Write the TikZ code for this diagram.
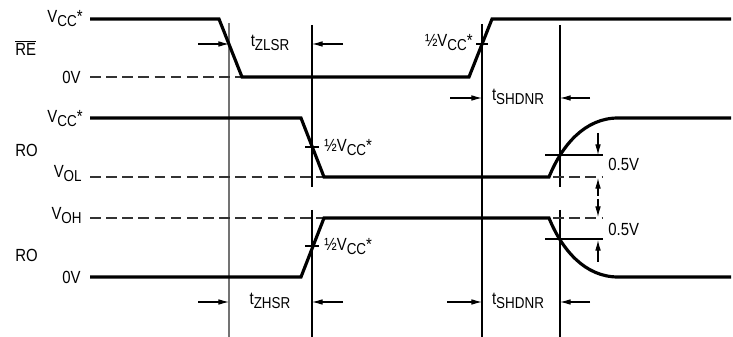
\documentclass[tikz,border=0pt]{standalone}
\usepackage{fontspec}
\setmainfont[FakeStretch=0.85]{Liberation Sans}
\usetikzlibrary{arrows.meta}

\newcommand\sbs[1]{\raisebox{-2.3pt}{\fontsize{9}{9}\selectfont #1}}
\newcommand\vcc{V\sbs{CC}*}
\newcommand\hvcc{½\vcc}

\begin{document}
\begin{tikzpicture}[x=0.02cm,y=-0.02cm,
  sig/.style={line width=1.8pt,line join=miter},
  lvl/.style={line width=0.7pt,color=black!80,dash pattern=on 6pt off 3.2pt},
  tline/.style={line width=0.6pt},
  dim/.style={line width=0.6pt,-{Latex[length=6pt,width=3.2pt]}},
  lbl/.style={font=\fontsize{10}{11}\selectfont,inner sep=0pt}]
\useasboundingbox (0,0) rectangle (733,337);

%Define time markers and levels
\def\ta{229}        %enable RE falls.
\def\tb{312}        %RO half swing.
\def\tc{482}        %RE half swing.
\def\td{560}        %RO 0.5V point.

% Left labels
\node[lbl,anchor=east] (vcca) at (83,19) {\vcc};
\node[lbl,anchor=west] (re) at (15,48) {$\overline{\hbox{RE}}$};
\node[lbl,anchor=east] (zva) at (81,77) {0V};
\node[lbl,anchor=east] (vccb) at (83,119) {\vcc};
\node[lbl,anchor=west] (roa) at (15,150) {RO};
\node[lbl,anchor=east] (vol) at (82,174) {V\sbs{OL}};
\node[lbl,anchor=east] (voh) at (82,216) {V\sbs{OH}};
\node[lbl,anchor=west] (rob) at (15,255) {RO};
\node[lbl,anchor=east] (zvb) at (81,277) {0V};

% Time marker lines
\draw[tline,color=black!55,line width=0.9pt] (\ta,23) -- (\ta,337);
\draw[tline] (\tb,25) -- (\tb,187) (\tb,210) -- (\tb,337);
\draw[tline] (\tc,24) -- (\tc,337);
\draw[tline] (\td,25) -- (\td,187) (\td,210) -- (\td,337);

% Dashed levels
\draw[lvl] (90,77) -- (242,77);
\draw[lvl] (90,177) -- (324,177);
\draw[lvl] (90,218) -- (324,218);
\draw[lvl] (553,177) -- (603,177);
\draw[lvl] (553,218) -- (603,218);

% RE
\draw[sig] (90,19) -- (219,19) -- (242,77) -- (469,77) -- (492,19) -- (731,19);

% RO, high to low
\draw[sig] (90,118) -- (301,118) -- (324,177) -- (549,177)
  .. controls (562,145) and (585,118) .. (618,118) -- (731,118);

% RO, low to high
\draw[sig] (90,277) -- (301,277) -- (324,218) -- (549,218)
  .. controls (562,250) and (585,277) .. (618,277) -- (731,277);

% Half swing ticks
\draw[tline] (476,44) -- (488,44);
\draw[tline] (305,147) -- (319,147);
\draw[tline] (305,246) -- (319,246);
\node[lbl,anchor=east] (hre) at (473,43) {\hvcc};
\node[lbl,anchor=west] (hroa) at (324,148) {\hvcc};
\node[lbl,anchor=west] (hrob) at (324,247) {\hvcc};

% 0.5V steps
\draw[tline] (545,155) -- (603,155);
\draw[tline] (545,239) -- (603,239);
\draw[dim] (598,133) -- (598,155);
\draw[dim] (598,196) -- (598,178);
\draw[dim] (598,199) -- (598,217);
\draw[dim] (598,262) -- (598,240);
\node[lbl,anchor=west] (hva) at (608,164) {0.5V};
\node[lbl,anchor=west] (hvb) at (608,229) {0.5V};

% Timing arrows
\draw[dim] (198,44) -- (\ta,44);
\draw[dim] (343,44) -- (\tb,44);
\node[lbl] (tzlsr) at (270,43) {t\sbs{ZLSR}};
\draw[dim] (450,98) -- (\tc,98);
\draw[dim] (590,98) -- (\td,98);
\node[lbl] (tsha) at (518,97) {t\sbs{SHDNR}};
\draw[dim] (198,302) -- (\ta,302);
\draw[dim] (343,302) -- (\tb,302);
\node[lbl] (tzhsr) at (270,301) {t\sbs{ZHSR}};
\draw[dim] (447,302) -- (\tc,302);
\draw[dim] (590,302) -- (\td,302);
\node[lbl] (tshb) at (518,301) {t\sbs{SHDNR}};

\end{tikzpicture}
\end{document}
